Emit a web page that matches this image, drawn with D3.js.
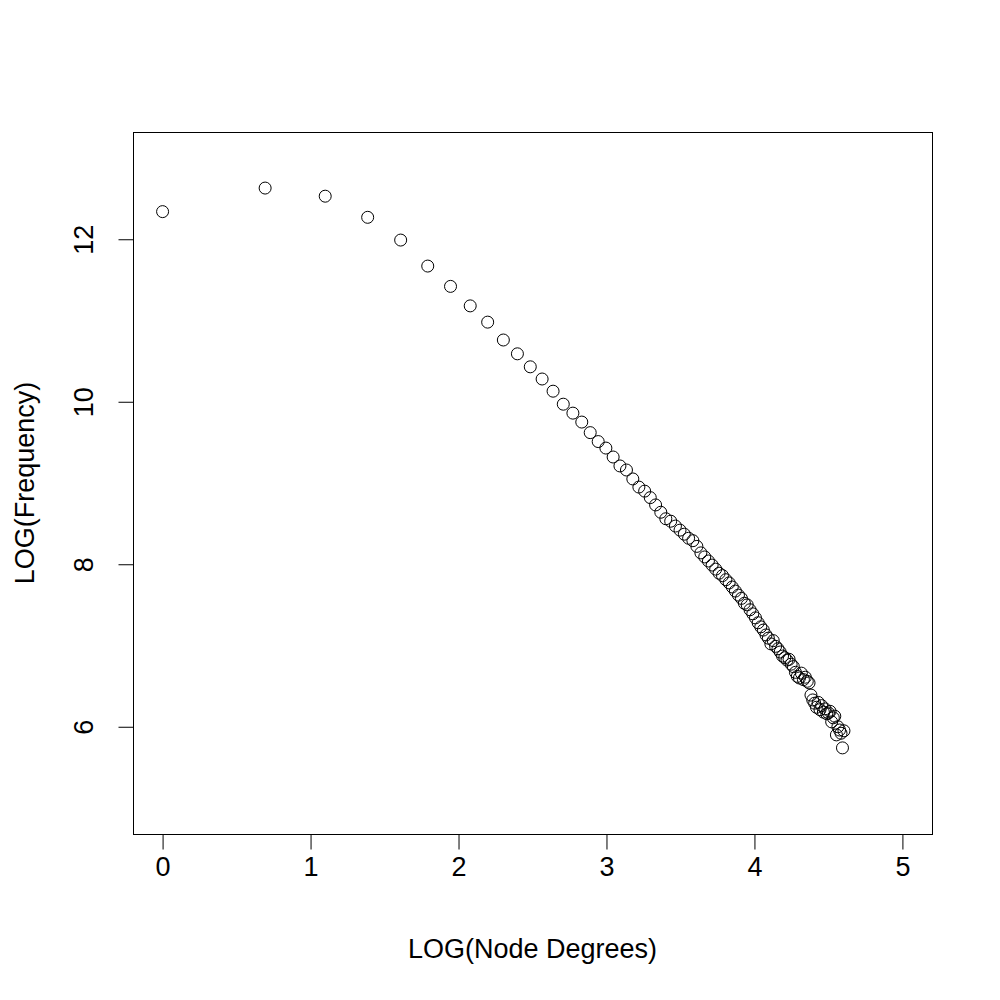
<!DOCTYPE html>
<html><head><meta charset="utf-8">
<script src="https://cdn.jsdelivr.net/npm/d3@7"></script>
<style>body{margin:0;background:#fff}svg{display:block}text{font-family:"Liberation Sans",Arial,sans-serif;fill:#000}</style>
</head><body>
<script>
const logDegree = [0,0.693,1.099,1.386,1.609,1.792,1.946,2.079,2.197,2.303,
2.398,2.485,2.565,2.639,2.708,2.773,2.833,2.890,2.944,2.996,
3.045,3.091,3.135,3.178,3.219,3.258,3.296,3.332,3.367,3.401,
3.434,3.466,3.497,3.526,3.555,3.584,3.611,3.638,3.664,3.689,
3.714,3.738,3.761,3.784,3.807,3.829,3.850,3.871,3.892,3.912,
3.932,3.951,3.970,3.989,4.007,4.025,4.043,4.060,4.078,4.094,
4.111,4.127,4.143,4.159,4.174,4.190,4.205,4.220,4.234,4.248,
4.263,4.277,4.290,4.304,4.317,4.331,4.344,4.357,4.369,4.382,
4.394,4.407,4.419,4.431,4.443,4.454,4.466,4.477,4.489,4.500,
4.511,4.522,4.533,4.543,4.554,4.564,4.575,4.585,4.595,4.605];
const logFrequency = [12.34,12.63,12.53,12.27,11.99,11.67,11.42,11.18,10.98,10.76,
10.59,10.43,10.28,10.13,9.97,9.86,9.75,9.62,9.51,9.43,
9.32,9.21,9.16,9.05,8.95,8.90,8.82,8.73,8.64,8.56,
8.53,8.47,8.42,8.37,8.32,8.29,8.22,8.14,8.09,8.04,
7.99,7.94,7.89,7.86,7.81,7.77,7.72,7.67,7.62,7.58,
7.52,7.50,7.44,7.39,7.34,7.28,7.23,7.19,7.13,7.09,
7.02,7.06,6.99,6.96,6.92,6.87,6.85,6.82,6.83,6.77,
6.74,6.67,6.62,6.60,6.66,6.58,6.61,6.56,6.54,6.39,
6.33,6.29,6.24,6.30,6.21,6.26,6.18,6.22,6.16,6.17,
6.19,6.06,6.11,6.13,5.90,6.00,5.96,5.92,5.74,5.95];
const xTicks = [0,1,2,3,4,5];
const yTicks = [6,8,10,12];
const xTitle = "LOG(Node Degrees)";
const yTitle = "LOG(Frequency)";

const W = 1000, H = 1000;
const L = 133, R = 932, T = 132, B = 834;
const svg = d3.select("body").append("svg").attr("width", W).attr("height", H);
const x = d3.scaleLinear().domain([-0.2, 5.2]).range([L, R]);
const y = d3.scaleLinear().domain([4.68, 13.32]).range([B, T]);

svg.append("rect").attr("x", L + 0.5).attr("y", T + 0.5).attr("width", R - L).attr("height", B - T)
  .attr("fill", "none").attr("stroke", "#000").attr("stroke-width", 1);

const fs = 27;
const xa = svg.append("g").attr("transform", `translate(0,${B + 0.5})`)
  .call(d3.axisBottom(x).tickValues(xTicks).tickFormat(d3.format("d")).tickSize(15).tickPadding(7));
xa.select(".domain").attr("d", `M${x(0)},0H${x(5)}`);
xa.selectAll("text").style("font-size", fs + "px").attr("font-family", null);

const ya = svg.append("g").attr("transform", `translate(${L + 0.5},0)`)
  .call(d3.axisLeft(y).tickValues(yTicks).tickFormat(d3.format("d")).tickSize(15));
ya.select(".domain").attr("d", `M0,${y(6)}V${y(12)}`);
ya.selectAll(".tick text").attr("x", null).attr("dy", null)
  .attr("transform", "translate(-50,0) rotate(-90)")
  .attr("text-anchor", "middle").attr("dominant-baseline", "central")
  .style("font-size", fs + "px");

svg.append("text").attr("x", (L + R) / 2).attr("y", 949).attr("text-anchor", "middle")
  .attr("dominant-baseline", "central").style("font-size", fs + "px").text(xTitle);
svg.append("text").attr("transform", `translate(25,${(T + B) / 2}) rotate(-90)`)
  .attr("text-anchor", "middle").attr("dominant-baseline", "central")
  .style("font-size", fs + "px").text(yTitle);

svg.append("g").selectAll("circle").data(logDegree).join("circle")
  .attr("cx", d => x(d)).attr("cy", (d, i) => y(logFrequency[i])).attr("r", 6)
  .attr("fill", "none").attr("stroke", "#000").attr("stroke-width", 1);
</script>
</body></html>
